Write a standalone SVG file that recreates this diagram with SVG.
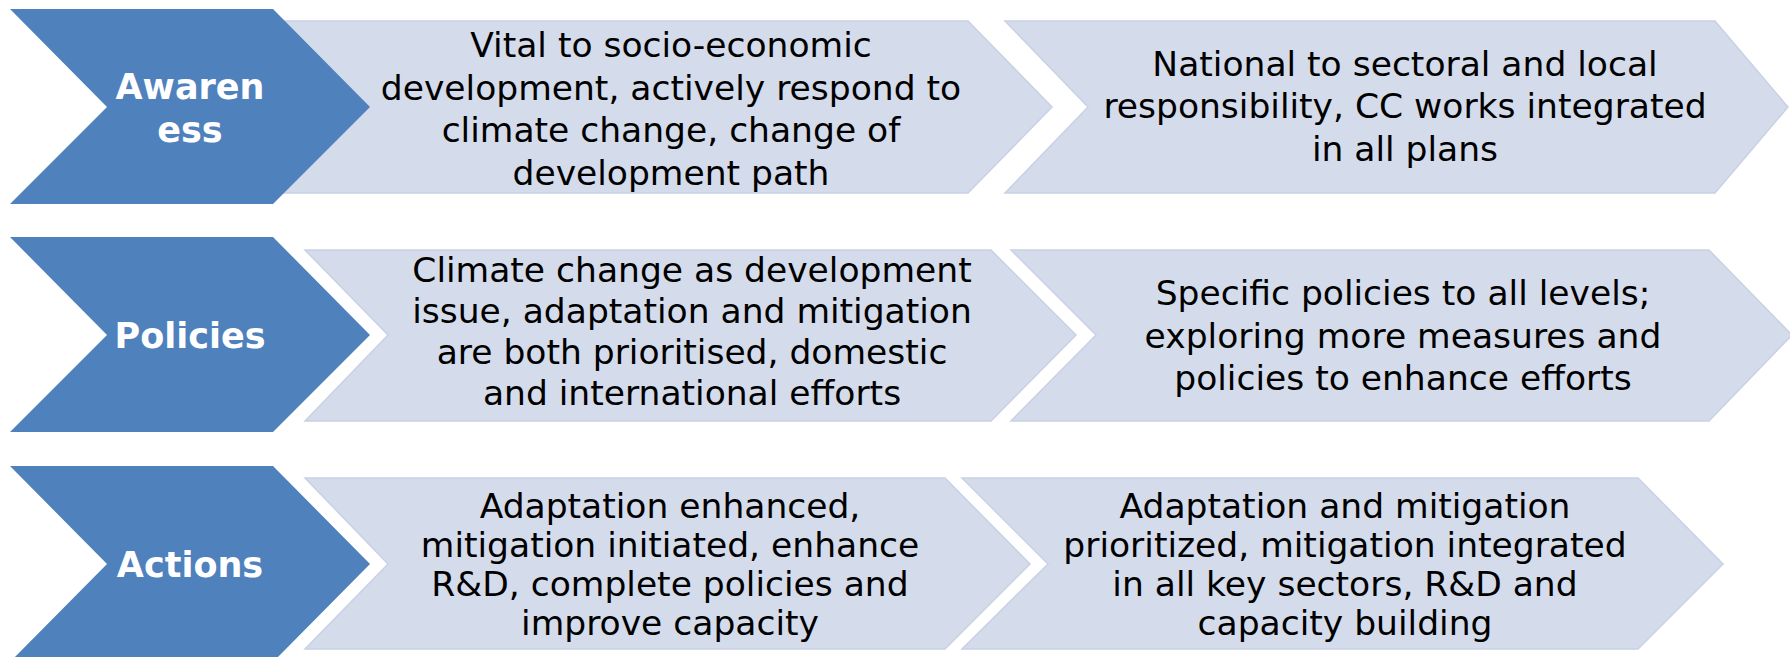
<svg xmlns="http://www.w3.org/2000/svg" width="1790" height="657" viewBox="0 0 1790 657">
<style>
.lt{fill:#d4dbea;stroke:#c9d1e4;stroke-width:1.5}
.bl{fill:#4f81bd}
.t{font-family:"DejaVu Sans",Verdana,sans-serif;font-size:34.5px;fill:#000;text-anchor:middle}
.h{font-family:"DejaVu Sans",Verdana,sans-serif;font-size:35px;font-weight:bold;fill:#fff;text-anchor:middle}
</style>
<rect width="1790" height="657" fill="#fff"/>
<g id="connectors"/>
<g id="row1">
<g id="awareness-a"><polygon class="lt" points="240,21 968,21 1052,107 968,193 240,193 326,107"/>
<text class="t" x="671"><tspan x="671" y="57">Vital to socio-economic</tspan><tspan x="671" y="99.5">development, actively respond to</tspan><tspan x="671" y="142">climate change, change of</tspan><tspan x="671" y="184.5">development path</tspan></text></g>
<g id="awareness-b"><polygon class="lt" points="1005,21 1715,21 1788,107 1715,193 1005,193 1088,107"/>
<text class="t" x="1405"><tspan x="1405" y="75.5">National to sectoral and local</tspan><tspan x="1405" y="118">responsibility, CC works integrated</tspan><tspan x="1405" y="160.5">in all plans</tspan></text></g>
<g id="awareness"><polygon class="bl" points="10,9 273,9 370,107 273,204 10,204 107,107"/>
<text class="h"><tspan x="190" y="99">Awaren</tspan><tspan x="190" y="142">ess</tspan></text></g>
</g>
<g id="row2">
<g id="policies-a"><polygon class="lt" points="305,250 991,250 1076,335 991,421 305,421 388,335"/>
<text class="t"><tspan x="692" y="282">Climate change as development</tspan><tspan x="692" y="323">issue, adaptation and mitigation</tspan><tspan x="692" y="364">are both prioritised, domestic</tspan><tspan x="692" y="405">and international efforts</tspan></text></g>
<g id="policies-b"><polygon class="lt" points="1011,250 1709,250 1792,335 1709,421 1011,421 1096,335"/>
<text class="t"><tspan x="1403" y="305">Specific policies to all levels;</tspan><tspan x="1403" y="347.5">exploring more measures and</tspan><tspan x="1403" y="390">policies to enhance efforts</tspan></text></g>
<g id="policies"><polygon class="bl" points="10,237 273,237 370,335 273,432 10,432 107,335"/>
<text class="h" x="190" y="348">Policies</text></g>
</g>
<g id="row3">
<g id="actions-a"><polygon class="lt" points="305,478 945,478 1030,564 945,649 305,649 388,564"/>
<text class="t"><tspan x="670" y="518">Adaptation enhanced,</tspan><tspan x="670" y="557">mitigation initiated, enhance</tspan><tspan x="670" y="596">R&amp;D, complete policies and</tspan><tspan x="670" y="635">improve capacity</tspan></text></g>
<g id="actions-b"><polygon class="lt" points="962,478 1638,478 1723,564 1638,649 962,649 1048,564"/>
<text class="t"><tspan x="1345" y="518">Adaptation and mitigation</tspan><tspan x="1345" y="557">prioritized, mitigation integrated</tspan><tspan x="1345" y="596">in all key sectors, R&amp;D and</tspan><tspan x="1345" y="635">capacity building</tspan></text></g>
<g id="actions"><polygon class="bl" points="10,466 273,466 370,564 273,662 10,662 107,564"/>
<text class="h" x="190" y="577">Actions</text></g>
</g>
</svg>
